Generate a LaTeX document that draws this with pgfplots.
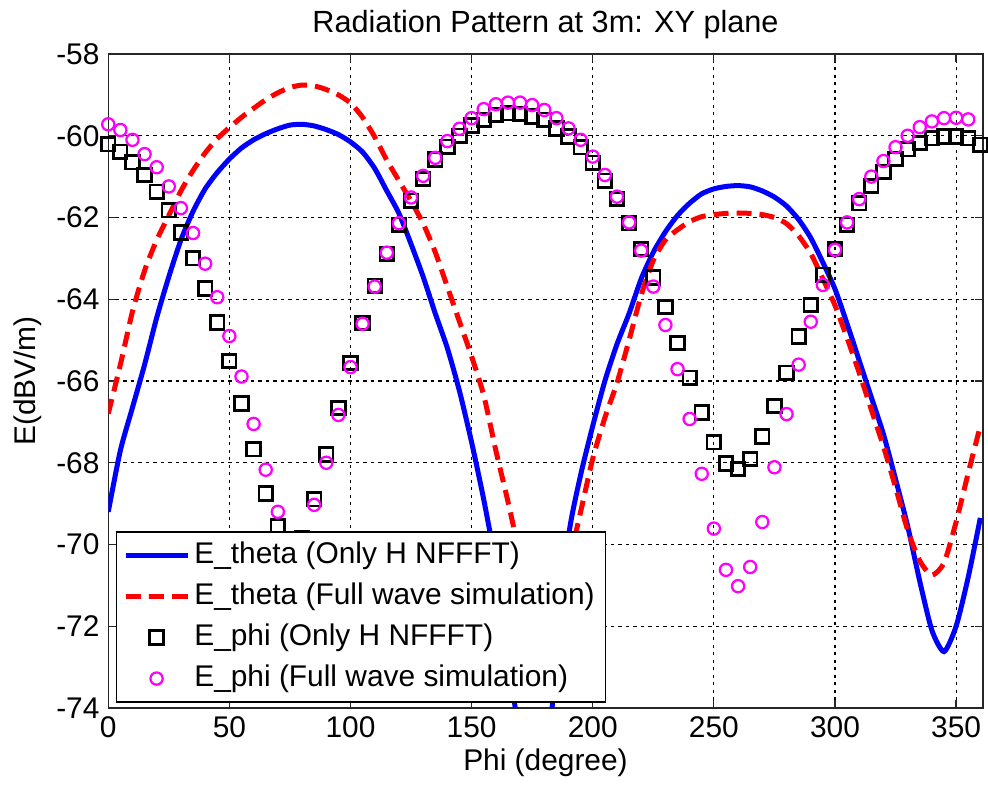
\documentclass[border=0pt]{standalone}
\usepackage{pgfplots}
\pgfplotsset{compat=1.18}
\usepackage{pgfplotstable}
\usepackage{fontspec}
\setmainfont{Liberation Sans}
\definecolor{mlmag}{RGB}{255,0,255}
\definecolor{mlblue}{RGB}{0,0,255}
\definecolor{mlred}{RGB}{255,0,0}

\pgfplotstableread{
phi E
0 -69.2
5 -67.7
10 -66.65
15 -65.6
20 -64.45
25 -63.45
30 -62.55
35 -61.85
40 -61.3
45 -60.9
50 -60.57
55 -60.3
60 -60.1
65 -59.95
70 -59.83
75 -59.74
80 -59.72
85 -59.76
90 -59.85
95 -59.97
100 -60.15
105 -60.4
110 -60.8
115 -61.35
120 -61.9
125 -62.65
130 -63.45
135 -64.35
140 -65.2
145 -66.25
150 -67.5
155 -68.9
160 -70.5
165 -72.5
170 -75
175 -77
180 -76
185 -72.8
190 -69.8
195 -68.3
200 -67.1
205 -66.0
210 -65.1
215 -64.35
220 -63.5
225 -62.85
230 -62.35
235 -61.95
240 -61.65
245 -61.42
250 -61.3
255 -61.24
260 -61.22
265 -61.25
270 -61.35
275 -61.5
280 -61.72
285 -62.05
290 -62.5
295 -63.1
300 -63.75
305 -64.6
310 -65.5
315 -66.4
320 -67.3
325 -68.4
330 -69.55
335 -70.9
340 -72.1
345 -72.62
350 -72.0
355 -70.8
360 -69.35
}\thetaH

\pgfplotstableread{
phi E
0 -66.8
5 -65.6
10 -64.3
15 -63.3
20 -62.55
25 -61.95
30 -61.35
35 -60.85
40 -60.42
45 -60.07
50 -59.8
55 -59.55
60 -59.33
65 -59.12
70 -58.95
75 -58.82
80 -58.76
85 -58.78
90 -58.87
95 -59.0
100 -59.2
105 -59.55
110 -60.03
115 -60.6
120 -61.1
125 -61.6
130 -62.15
135 -62.85
140 -63.7
145 -64.55
150 -65.4
155 -66.35
160 -67.7
165 -68.95
170 -70.3
175 -71.8
180 -72.5
185 -71.8
190 -70.5
195 -69.2
200 -67.9
205 -66.9
210 -66.05
215 -65.0
220 -63.9
225 -63.05
230 -62.55
235 -62.3
240 -62.1
245 -61.98
250 -61.93
255 -61.9
260 -61.89
265 -61.9
270 -61.93
275 -62.0
280 -62.15
285 -62.45
290 -62.88
295 -63.5
300 -64.15
305 -64.95
310 -65.8
315 -66.7
320 -67.6
325 -68.6
330 -69.65
335 -70.4
340 -70.75
345 -70.45
350 -69.45
355 -68.25
360 -67.1
}\thetaFW

\pgfplotstableread{
phi E
0 -60.21
5 -60.39
10 -60.65
15 -60.96
20 -61.37
25 -61.82
30 -62.37
35 -63.00
40 -63.74
45 -64.57
50 -65.51
55 -66.55
60 -67.67
65 -68.75
70 -69.56
75 -70.20
80 -69.85
85 -68.89
90 -67.80
95 -66.66
100 -65.56
105 -64.58
110 -63.67
115 -62.89
120 -62.18
125 -61.59
130 -61.06
135 -60.58
140 -60.27
145 -60.00
150 -59.75
155 -59.61
160 -59.49
165 -59.45
170 -59.47
175 -59.53
180 -59.61
185 -59.82
190 -60.02
195 -60.28
200 -60.66
205 -61.10
210 -61.55
215 -62.14
220 -62.77
225 -63.47
230 -64.19
235 -65.07
240 -65.92
245 -66.77
250 -67.50
255 -68.02
260 -68.15
265 -67.91
270 -67.36
275 -66.61
280 -65.80
285 -64.91
290 -64.14
295 -63.40
300 -62.77
305 -62.18
310 -61.65
315 -61.23
320 -60.88
325 -60.57
330 -60.33
335 -60.18
340 -60.06
345 -60.02
350 -60.02
355 -60.06
360 -60.22
}\phiH

\pgfplotstableread{
phi E
0 -59.72
5 -59.86
10 -60.10
15 -60.45
20 -60.77
25 -61.24
30 -61.77
35 -62.38
40 -63.13
45 -63.95
50 -64.90
55 -65.89
60 -67.05
65 -68.17
70 -69.20
75 -69.95
80 -69.90
85 -69.03
90 -68.00
95 -66.83
100 -65.66
105 -64.60
110 -63.69
115 -62.86
120 -62.14
125 -61.51
130 -60.98
135 -60.54
140 -60.13
145 -59.83
150 -59.57
155 -59.35
160 -59.23
165 -59.19
170 -59.19
175 -59.25
180 -59.37
185 -59.57
190 -59.82
195 -60.10
200 -60.51
205 -60.96
210 -61.49
215 -62.12
220 -62.81
225 -63.69
230 -64.63
235 -65.71
240 -66.93
245 -68.27
250 -69.61
255 -70.62
260 -71.02
265 -70.55
270 -69.45
275 -68.11
280 -66.81
285 -65.60
290 -64.55
295 -63.65
300 -62.79
305 -62.12
310 -61.55
315 -61.00
320 -60.62
325 -60.28
330 -60.00
335 -59.79
340 -59.65
345 -59.57
350 -59.56
355 -59.60
}\phiFW

\begin{document}
\begin{tikzpicture}
\begin{axis}[
  scale only axis,
  width=349.8bp, height=261.6bp,
  xmin=0, xmax=361, ymin=-74, ymax=-58,
  xtick={0,50,...,350},
  ytick={-74,-72,...,-58},
  /pgf/number format/assume math mode=true,
  tick label style={font=\fontsize{12}{14}\selectfont},
  label style={font=\fontsize{12}{14}\selectfont},
  title style={font=\fontsize{12.3}{14}\selectfont, at={(0.5,1)}, anchor=base, yshift=2.8bp},
  title={Radiation Pattern at 3m: XY plane},
  xlabel={Phi (degree)},
  xlabel style={at={(axis description cs:0.5,0)}, anchor=base, yshift=-24.8bp},
  ylabel={E(dBV/m)},
  ylabel style={at={(axis description cs:-0.0915,0.5)}, anchor=center, rotate=0},
  axis line style={black!85, line width=0.6bp},
  tick style={black!85, line width=0.5bp},
  major tick length=3.2bp,
  tick align=inside,
  grid=major,
  major grid style={black, line width=0.45bp, dash pattern=on 1.3bp off 1.7bp},
  legend cell align=left,
  legend image code/.code={\draw[mark repeat=2,mark phase=2,#1] plot coordinates {(0bp,0bp) (12.4bp,0bp) (24.8bp,0bp)};},
  legend style={at={(axis description cs:0.0088,0.0081)}, anchor=south west,
    draw=black, line width=0.5bp, fill=white,
    font=\fontsize{12}{14}\selectfont,
    inner xsep=2.6bp, inner ysep=2.4bp, row sep=2.4bp,
    nodes={inner xsep=1.7bp, inner ysep=1bp, text height=9bp, text depth=3bp}},
]
\addplot[mlblue, line width=2bp, smooth, tension=0.4] table[x=phi, y=E] {\thetaH};
\addlegendentry{E\_theta (Only H NFFFT)}
\addplot[mlred, line width=2bp, dash pattern=on 6bp off 3.2bp, smooth, tension=0.4] table[x=phi, y=E] {\thetaFW};
\addlegendentry{E\_theta (Full wave simulation)}
\addplot[black, only marks, mark=square, mark size=2.7bp, mark options={line width=1.1bp}] table[x=phi, y=E] {\phiH};
\addlegendentry{E\_phi (Only H NFFFT)}
\addplot[mlmag, only marks, mark=o, mark size=2.45bp, mark options={line width=0.9bp}] table[x=phi, y=E] {\phiFW};
\addlegendentry{E\_phi (Full wave simulation)}
\end{axis}
\pgfresetboundingbox
\path[use as bounding box] ([shift={(-43.3bp,-32bp)}]current axis.south west) rectangle ([shift={(2.1bp,21.6bp)}]current axis.north east);
\end{tikzpicture}
\end{document}
